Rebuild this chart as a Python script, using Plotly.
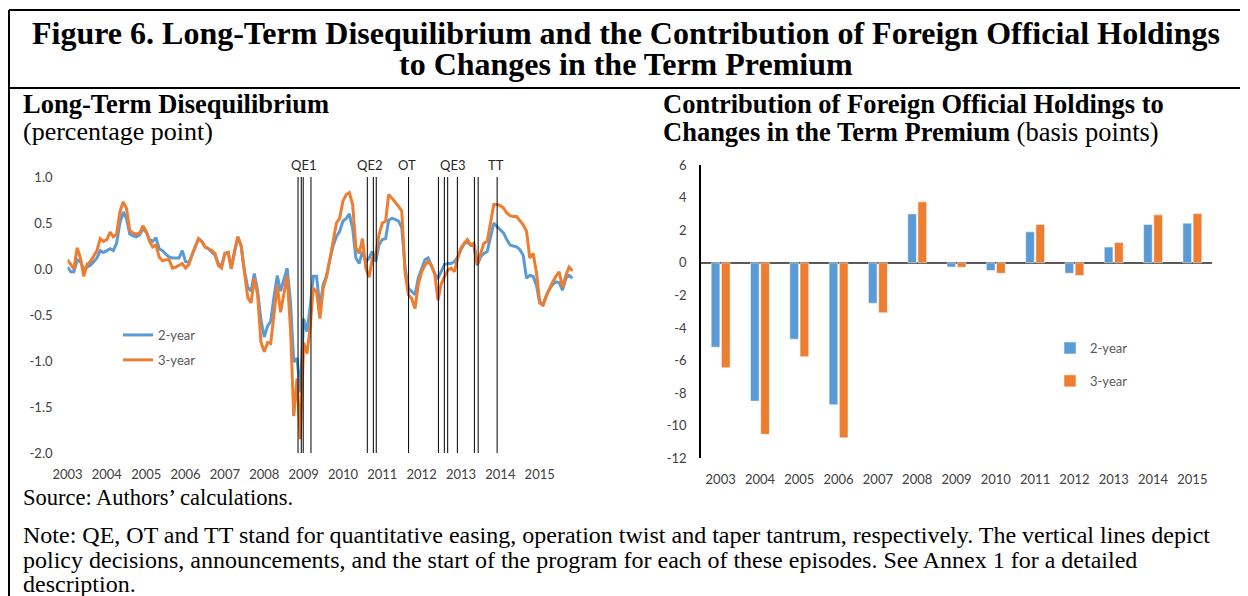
'''
    Figure 6: long-term disequilibrium (monthly lines with policy event
    markers) next to the yearly contribution of foreign official holdings
    to changes in the term premium (grouped bars).
'''

import pandas as pd
import plotly.graph_objects as go

W, H = 1248, 596
OFFSET = 8  # the page body margin shifts the plot by 8px right and down

BLUE = '#5B9BD5'
ORANGE = '#ED7D31'
CHART_FONT = 'Lato'
TEXT_FONT = 'Liberation Serif'

# --- Left panel: monthly data, Jan 2003 - Nov 2015 (percentage point) ---
months = pd.date_range('2003-01-01', periods=155, freq='MS')

two_year = [
    0.02, -0.03, -0.03, 0.10, 0.08, 0.00, 0.02, 0.04, 0.08, 0.12, 0.20, 0.18,
    0.20, 0.22, 0.20, 0.28, 0.50, 0.62, 0.55, 0.38, 0.36, 0.35, 0.37, 0.44,
    0.40, 0.32, 0.30, 0.34, 0.22, 0.20, 0.16, 0.13, 0.12, 0.12, 0.12, 0.20,
    0.08, 0.07, 0.15, 0.24, 0.33, 0.30, 0.24, 0.22, 0.18, 0.15, 0.06, 0.03,
    0.17, 0.18, 0.01, 0.20, 0.35, 0.25, -0.02, -0.20, -0.24, -0.05, -0.24, -0.55,
    -0.74, -0.62, -0.57, -0.30, -0.07, -0.24, -0.12, 0.01, -0.36, -1.01, -0.97, -1.34,
    -0.54, -0.68, -0.43, -0.08, -0.08, -0.43, -0.17, -0.08, 0.10, 0.25, 0.35, 0.41,
    0.52, 0.55, 0.60, 0.44, 0.12, 0.06, 0.19, 0.08, 0.12, 0.19, 0.08, 0.26,
    0.32, 0.33, 0.53, 0.55, 0.54, 0.52, 0.45, 0.01, -0.21, -0.24, -0.28, -0.10,
    0.01, 0.10, 0.12, 0.04, -0.05, -0.10, -0.03, 0.05, 0.06, 0.06, 0.08, 0.13,
    0.21, 0.28, 0.29, 0.26, 0.25, 0.04, 0.13, 0.17, 0.19, 0.33, 0.50, 0.46,
    0.42, 0.39, 0.32, 0.26, 0.25, 0.24, 0.21, 0.15, -0.10, -0.07, -0.08, -0.17,
    -0.37, -0.39, -0.30, -0.22, -0.17, -0.14, -0.15, -0.23, -0.10, -0.07, -0.10,
]

three_year = [
    0.10, 0.05, 0.00, 0.23, 0.12, -0.08, 0.05, 0.08, 0.15, 0.20, 0.33, 0.30,
    0.32, 0.40, 0.35, 0.38, 0.62, 0.73, 0.66, 0.42, 0.39, 0.38, 0.39, 0.47,
    0.41, 0.30, 0.24, 0.26, 0.13, 0.09, 0.10, 0.10, 0.01, 0.02, 0.04, 0.06,
    0.01, 0.05, 0.15, 0.25, 0.33, 0.30, 0.24, 0.22, 0.20, 0.17, 0.04, 0.01,
    0.17, 0.18, 0.00, 0.20, 0.35, 0.25, -0.03, -0.31, -0.37, -0.10, -0.28, -0.79,
    -0.90, -0.80, -0.81, -0.50, -0.18, -0.47, -0.28, -0.07, -0.65, -1.60, -1.19, -1.85,
    -0.80, -0.92, -0.65, -0.21, -0.25, -0.54, -0.21, -0.08, 0.10, 0.30, 0.50, 0.55,
    0.74, 0.81, 0.83, 0.70, 0.23, 0.17, 0.33, 0.01, -0.09, 0.12, 0.15, 0.37,
    0.50, 0.52, 0.81, 0.77, 0.73, 0.68, 0.63, -0.05, -0.28, -0.32, -0.43, -0.17,
    -0.03, 0.04, 0.08, 0.04, -0.05, -0.34, -0.16, -0.08, -0.01, 0.01, -0.03, 0.12,
    0.23, 0.28, 0.32, 0.26, 0.28, 0.05, 0.17, 0.28, 0.30, 0.50, 0.70, 0.70,
    0.69, 0.66, 0.61, 0.58, 0.57, 0.57, 0.53, 0.48, 0.41, 0.12, 0.17, -0.03,
    -0.35, -0.40, -0.30, -0.21, -0.14, -0.08, -0.03, -0.20, -0.07, 0.02, -0.02,
]

year_ticks = ['2003-01-01', '2004-01-01', '2005-01-01', '2006-01-01', '2007-01-01',
              '2008-01-01', '2009-01-01', '2010-01-01', '2011-01-01', '2012-01-01',
              '2013-01-01', '2014-01-01', '2015-01-01', '2016-01-01']
year_labels = ['2003', '2004', '2005', '2006', '2007', '2008', '2009',
               '2010', '2011', '2012', '2013', '2014', '2015', '']

# policy decisions / announcements drawn as vertical lines
event_dates = [
    '2008-11-10', '2008-12-10', '2008-12-28', '2009-03-10',
    '2010-08-15', '2010-10-10', '2010-11-06',
    '2011-09-02',
    '2012-06-05', '2012-07-30', '2012-08-30', '2012-11-28',
    '2013-05-05', '2013-06-09', '2013-12-02',
]
episode_labels = ['QE1', 'QE2', 'OT', 'QE3', 'TT']
episode_label_dates = ['2008-12-28', '2010-09-01', '2011-08-18', '2012-10-18', '2013-11-24']

left_tickvals = [-2.0, -1.5, -1.0, -0.5, 0.0, 0.5, 1.0]
left_ticktext = ['-2.0', '-1.5', '-1.0', '-0.5', '0.0', '0.5', '1.0']

# --- Right panel: yearly contributions (basis points) ---
bar_years = ['2003', '2004', '2005', '2006', '2007', '2008', '2009',
             '2010', '2011', '2012', '2013', '2014', '2015']
bar_two_year = [-5.18, -8.49, -4.69, -8.71, -2.48, 3.00, -0.26,
                -0.47, 1.90, -0.64, 0.96, 2.35, 2.43]
bar_three_year = [-6.44, -10.53, -5.77, -10.74, -3.07, 3.74, -0.27,
                  -0.64, 2.35, -0.78, 1.25, 2.94, 3.02]

right_tickvals = [-12, -10, -8, -6, -4, -2, 0, 2, 4, 6]
right_ticktext = ['-12', '-10', '-8', '-6', '-4', '-2', '0', '2', '4', '6']


def px(x):
    # screen pixel -> paper fraction
    return (x - OFFSET) / W


def py(y):
    return 1 - (y - OFFSET) / H


fig = go.Figure()

# Lines (2-year first so the 3-year line sits on top)
fig.add_trace(go.Scatter(
    x=months, y=two_year, name='2-year', mode='lines',
    line=dict(color=BLUE, width=3), legend='legend', legendgroup='a',
    xaxis='x', yaxis='y',
))
fig.add_trace(go.Scatter(
    x=months, y=three_year, name='3-year', mode='lines',
    line=dict(color=ORANGE, width=3), legend='legend', legendgroup='b',
    xaxis='x', yaxis='y',
))

# Bars
fig.add_trace(go.Bar(
    x=bar_years, y=bar_two_year, name='2-year', marker_color=BLUE,
    marker_line=dict(color='white', width=0.5),
    legend='legend2', legendgroup='c', xaxis='x2', yaxis='y2',
))
fig.add_trace(go.Bar(
    x=bar_years, y=bar_three_year, name='3-year', marker_color=ORANGE,
    marker_line=dict(color='white', width=0.5),
    legend='legend2', legendgroup='d', xaxis='x2', yaxis='y2',
))

left_dom_y = [py(453), py(177)]
zero_pos = left_dom_y[0] + (2 / 3) * (left_dom_y[1] - left_dom_y[0])
date_range = ['2003-01-01', '2016-01-01']
tick_font = dict(family=CHART_FONT, size=13, color='#404040')

fig.update_layout(
    width=W, height=H,
    margin=dict(l=0, r=0, t=0, b=0, autoexpand=False),
    paper_bgcolor='white', plot_bgcolor='white',
    font=dict(family=CHART_FONT, size=13, color='#404040'),
    barmode='group', bargap=0.48, bargroupgap=0.15,
    xaxis=dict(
        domain=[px(67.5), px(579)], anchor='y', type='date', range=date_range,
        tickmode='array', tickvals=year_ticks, ticktext=year_labels,
        showgrid=False, zeroline=False, showline=False, ticks='',
        ticklabelstandoff=12, tickfont=tick_font, automargin=False,
    ),
    xaxis3=dict(
        overlaying='x', anchor='free', position=zero_pos, type='date',
        range=date_range, tickmode='array', tickvals=year_ticks,
        showgrid=False, zeroline=False, showline=True, linecolor='black',
        linewidth=1.5, ticks='outside', ticklen=5, tickcolor='black',
        showticklabels=False, automargin=False,
    ),
    yaxis=dict(
        domain=left_dom_y, anchor='x', range=[-2, 1],
        tickmode='array', tickvals=left_tickvals, ticktext=left_ticktext,
        showgrid=False, zeroline=False, showline=False, ticks='',
        ticklabelstandoff=14, tickfont=tick_font, automargin=False,
    ),
    xaxis2=dict(
        domain=[px(701), px(1212)], anchor='y2', type='category',
        showgrid=False, zeroline=False, showline=False, ticks='',
        ticklabelstandoff=12, tickfont=tick_font, automargin=False,
    ),
    yaxis2=dict(
        domain=[py(458.3), py(165)], anchor='x2', range=[-12, 6],
        tickmode='array', tickvals=right_tickvals, ticktext=right_ticktext,
        showgrid=False, zeroline=True, zerolinecolor='#595959', zerolinewidth=2,
        showline=True, linecolor='black', linewidth=1.5, ticks='',
        ticklabelstandoff=10, tickfont=tick_font, automargin=False,
    ),
    legend=dict(
        x=px(118), y=py(320), xanchor='left', yanchor='top',
        bgcolor='rgba(0,0,0,0)', traceorder='grouped', tracegroupgap=5,
        font=dict(family=CHART_FONT, size=13, color='#595959'),
    ),
    legend2=dict(
        x=px(1050), y=py(333), xanchor='left', yanchor='top',
        bgcolor='rgba(0,0,0,0)', traceorder='grouped', tracegroupgap=13,
        font=dict(family=CHART_FONT, size=13, color='#595959'),
    ),
)

# vertical event lines
for d in event_dates:
    fig.add_shape(type='line', xref='x', yref='y', x0=d, x1=d, y0=-2, y1=1,
                  line=dict(color='black', width=1))

# episode labels above the plot area (paper y so they are not hidden off-range)
for label, d in zip(episode_labels, episode_label_dates):
    fig.add_annotation(x=d, y=py(165), xref='x', yref='paper', text=label,
                       showarrow=False, yanchor='middle',
                       font=dict(family=CHART_FONT, size=13, color='#262626'))

# frame
frame = dict(color='black', width=2)
fig.add_shape(type='line', xref='paper', yref='paper', x0=px(9), x1=px(1245),
              y0=py(10), y1=py(10), line=frame)
fig.add_shape(type='line', xref='paper', yref='paper', x0=px(9), x1=px(1245),
              y0=py(88), y1=py(88), line=frame)
fig.add_shape(type='line', xref='paper', yref='paper', x0=px(9), x1=px(9),
              y0=py(10), y1=0, line=frame)
fig.add_shape(type='line', xref='paper', yref='paper', x0=px(1245), x1=px(1245),
              y0=py(10), y1=0, line=frame)


def text(x, y, s, size=24, anchor='left'):
    fig.add_annotation(x=px(x), y=py(y), xref='paper', yref='paper', text=s,
                       showarrow=False, xanchor=anchor, yanchor='middle',
                       font=dict(family=TEXT_FONT, size=size, color='black'))


text(626, 33, '<b>Figure 6. Long-Term Disequilibrium and the Contribution of Foreign Official Holdings</b>',
     size=32, anchor='center')
text(626, 64, '<b>to Changes in the Term Premium</b>', size=32, anchor='center')
text(21, 104, '<b>Long-Term Disequilibrium</b>', size=26.5)
text(21, 131, '(percentage point)', size=26)
text(661, 104, '<b>Contribution of Foreign Official Holdings to</b>', size=26.5)
text(661, 132, '<b>Changes in the Term Premium</b> (basis points)', size=26.5)
text(21, 497, 'Source: Authors’ calculations.', size=22.5)
text(21, 535, 'Note: QE, OT and TT stand for quantitative easing, operation twist and taper tantrum, '
              'respectively. The vertical lines depict')
text(21, 560, 'policy decisions, announcements, and the start of the program for each of these '
              'episodes. See Annex 1 for a detailed')
text(21, 584, 'description.')

fig.write_html('out.html')
